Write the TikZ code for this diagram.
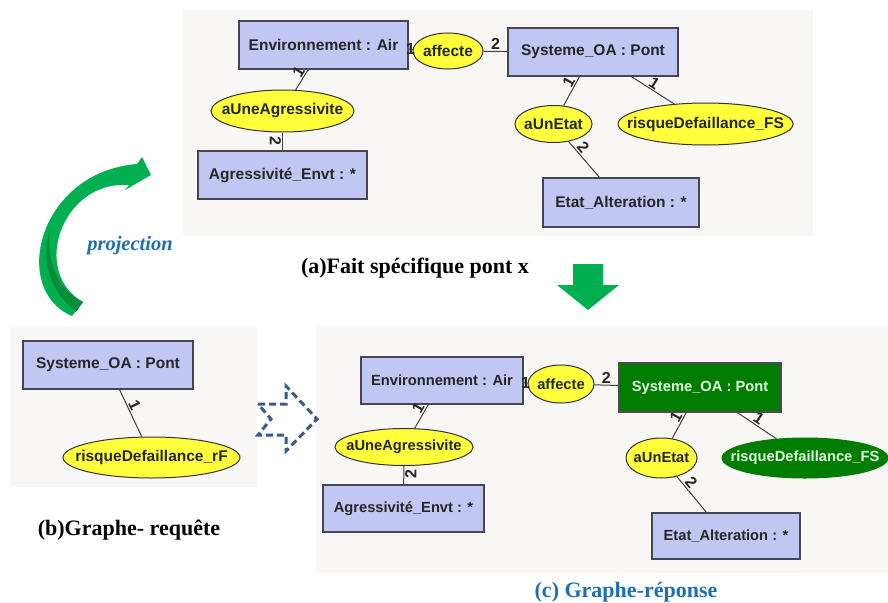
\documentclass[tikz,border=0pt]{standalone}
\usepackage{fontspec}
\setmainfont{Liberation Serif}
\setsansfont{Liberation Sans}
\usetikzlibrary{shapes.geometric}
\definecolor{boxfill}{RGB}{194,198,242}
\definecolor{boxedge}{RGB}{70,70,80}
\definecolor{yellfill}{RGB}{255,255,60}
\definecolor{dkgreen}{RGB}{0,125,0}
\definecolor{panelbg}{RGB}{248,247,245}
\definecolor{arrgreen}{RGB}{0,176,80}
\definecolor{arrgreendk}{RGB}{12,140,58}
\definecolor{dasharr}{RGB}{59,90,140}
\definecolor{capblue}{RGB}{31,110,180}
\newcommand\nodefnt{\sffamily\bfseries\fontsize{15.5}{18}\selectfont}
\newcommand\nodefntb{\sffamily\bfseries\fontsize{14.7}{17}\selectfont}
\newcommand\edgefnt{\sffamily\bfseries\fontsize{16}{18}\selectfont}
\newcommand\capfnt{\rmfamily\bfseries\fontsize{22}{26}\selectfont}
\tikzset{
  panel/.style={fill=panelbg, draw=none},
  cbox/.style={rectangle, draw=boxedge, fill=boxfill, line width=1.2pt, inner sep=0pt, font=\nodefnt, text=black!85},
  cboxb/.style={cbox, font=\nodefntb},
  gbox/.style={cbox, fill=dkgreen, draw=black!70, text=white!88!green, font=\nodefntb},
  yell/.style={ellipse, draw=black!80, fill=yellfill, line width=1pt, inner sep=0pt},
  gell/.style={ellipse, draw=dkgreen, fill=dkgreen, line width=1pt, inner sep=0pt},
  etxt/.style={font=\nodefnt, text=black!85},
  etxtb/.style={font=\nodefntb, text=black!85},
  gtxt/.style={font=\nodefntb, text=white!88!green},
  conn/.style={draw=black!75, line width=1pt},
  elab/.style={font=\edgefnt, inner sep=1pt, text=black!85},
  captxt/.style={font=\capfnt, text=black},
}
\begin{document}
\begin{tikzpicture}[x=1pt, y=-1pt]
\path[use as bounding box, fill=white] (0,0) rectangle (888,602);

% panels
\fill[panel] (183,10) rectangle (813,236);
\fill[panel] (10,327) rectangle (257,487);
\fill[panel] (316,327) rectangle (888,573);

% ===== (a) top panel =====
\node[cbox, minimum width=169, minimum height=48] (envA) at (323.5,45) {Environnement : Air};
\node[yell, minimum width=70, minimum height=36, label={[etxt]center:affecte}] (affA) at (448,51) {};
\node[cbox, minimum width=170, minimum height=48] (sysA) at (593,52) {Systeme\_OA : Pont};
\node[yell, minimum width=143, minimum height=42, label={[etxt]center:aUneAgressivite}] (auaA) at (282.5,111) {};
\node[cbox, minimum width=169, minimum height=48] (agrA) at (282.5,175) {Agressivité\_Envt : *};
\node[yell, minimum width=77, minimum height=37, label={[etxt]center:aUnEtat}] (aueA) at (553.5,124) {};
\node[yell, minimum width=175, minimum height=42, label={[etxt]center:risqueDefaillance\_FS}] (rfsA) at (705.5,124) {};
\node[cbox, minimum width=156, minimum height=49] (etaA) at (621,202.5) {Etat\_Alteration : *};

\draw[conn] (envA) -- node[elab, midway] {1} (affA);
\draw[conn] (affA) -- node[elab, midway, above] {2} (sysA);
\draw[conn] (envA) -- node[elab, pos=.3, sloped, above] {1} (auaA);
\draw[conn] (auaA) -- node[elab, pos=.45, sloped, below] {2} (agrA);
\draw[conn] (sysA) -- node[elab, pos=.3, sloped, above] {1} (aueA);
\draw[conn] (sysA) -- node[elab, pos=.45, sloped, above] {1} (rfsA);
\draw[conn] (aueA) -- node[elab, pos=.3, sloped, above] {2} (etaA);

\node[captxt] (capA) at (415,268) {(a)Fait spécifique pont x};

% green down arrow
\fill[arrgreen] (573,264) -- (603,264) -- (603,285) -- (619,285) -- (588,310) -- (557,285) -- (573,285) -- cycle;

% curved projection arrow
\fill[arrgreen]
  (72,316) .. controls (10,290) and (38,172) .. (137,164)
  -- (142,157) -- (151,175) -- (125,190) -- (129,185)
  .. controls (62,180) and (30,272) .. (83,302) -- cycle;
\fill[arrgreendk]
  (83,302) .. controls (58,290) and (46,262) .. (50,228)
  .. controls (41,258) and (48,290) .. (76,312) -- cycle;
\node[font=\rmfamily\bfseries\itshape\fontsize{20.5}{24}\selectfont, text=capblue] (proj) at (130,246) {projection};

% ===== (b) query graph =====
\node[cbox, minimum width=170, minimum height=48] (sysB) at (108,365) {Systeme\_OA : Pont};
\node[yell, minimum width=177, minimum height=41, label={[etxt]center:risqueDefaillance\_rF}] (rfB) at (151.5,457.5) {};
\draw[conn] (sysB) -- node[elab, pos=.4, sloped, above] {1} (rfB);
\node[captxt] (capB) at (129,530) {(b)Graphe- requête};

% dashed block arrow
\draw[dasharr, line width=3pt, dash pattern=on 7pt off 4pt, line join=miter]
  (258,404) -- (286,404) -- (286,386) -- (317,419) -- (286,451) -- (286,435) -- (258,435) -- (271,419) -- cycle;

% ===== (c) answer graph =====
\node[cboxb, minimum width=162, minimum height=47] (envC) at (442,380.5) {Environnement : Air};
\node[yell, minimum width=66, minimum height=38, label={[etxtb]center:affecte}] (affC) at (561,384) {};
\node[gbox, minimum width=162, minimum height=49] (sysC) at (700,387.5) {Systeme\_OA : Pont};
\node[yell, minimum width=138, minimum height=37, label={[etxtb]center:aUneAgressivite}] (auaC) at (404,447) {};
\node[cboxb, minimum width=161, minimum height=47] (agrC) at (403.5,508.5) {Agressivité\_Envt : *};
\node[yell, minimum width=71, minimum height=40, label={[etxtb]center:aUnEtat}] (aueC) at (661.5,458) {};
\node[gell, minimum width=166, minimum height=40, label={[gtxt]center:risqueDefaillance\_FS}] (rfsC) at (805,458) {};
\node[cboxb, minimum width=148, minimum height=46] (etaC) at (726,536) {Etat\_Alteration : *};

\draw[conn] (envC) -- node[elab, midway] {1} (affC);
\draw[conn] (affC) -- node[elab, midway, above] {2} (sysC);
\draw[conn] (envC) -- node[elab, pos=.3, sloped, above] {1} (auaC);
\draw[conn] (auaC) -- node[elab, pos=.45, sloped, below] {2} (agrC);
\draw[conn] (sysC) -- node[elab, pos=.3, sloped, above] {1} (aueC);
\draw[conn] (sysC) -- node[elab, pos=.45, sloped, above] {1} (rfsC);
\draw[conn] (aueC) -- node[elab, pos=.3, sloped, above] {2} (etaC);

\node[captxt, text=capblue] (capC) at (626,592) {(c) Graphe-réponse};
\end{tikzpicture}
\end{document}
